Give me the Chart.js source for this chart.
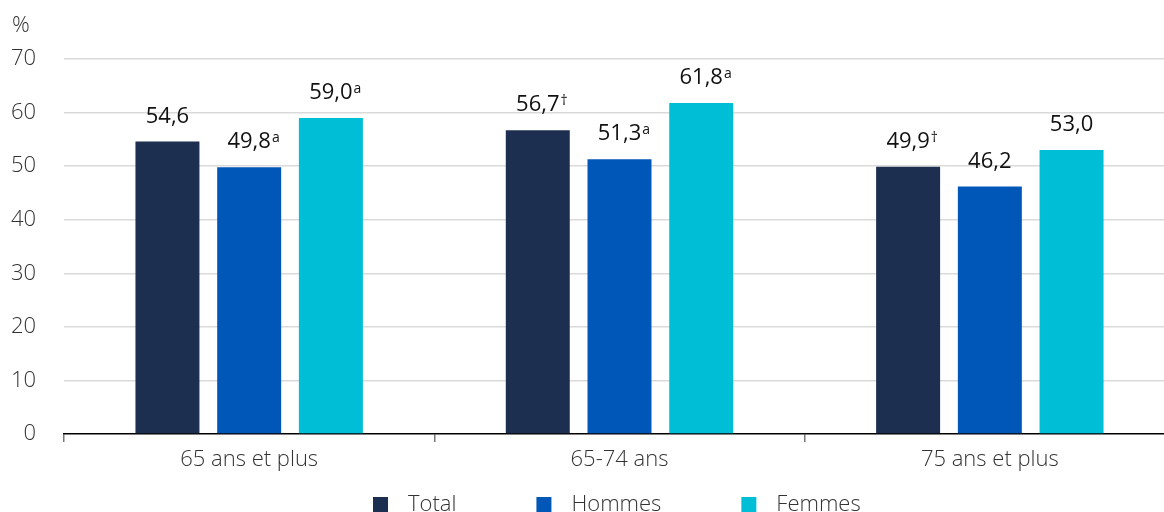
<!DOCTYPE html>
<html>
<head>
<meta charset="utf-8">
<script src="https://cdn.jsdelivr.net/npm/chart.js@4.4.1/dist/chart.umd.min.js"></script>
<style>
  html, body { margin: 0; padding: 0; background: #fff; overflow: hidden; }
  #wrap { width: 1164px; height: 512px; overflow: hidden; }
</style>
</head>
<body>
<div id="wrap"><canvas id="barChart" width="1175" height="512"></canvas></div>
<script>
const categories = ['65 ans et plus', '65-74 ans', '75 ans et plus'];
const seriesNames = ['Total', 'Hommes', 'Femmes'];
const totalValues = [54.6, 56.7, 49.9];
const hommesValues = [49.8, 51.3, 46.2];
const femmesValues = [59.0, 61.8, 53.0];
const totalNotes = ['', '†', '†'];
const hommesNotes = ['a', 'a', ''];
const femmesNotes = ['a', 'a', ''];
const yTicks = [0, 10, 20, 30, 40, 50, 60, 70];
const yUnit = '%';

const FONT = "'Open Sans', 'Noto Sans', sans-serif";
const W = '300';

// value labels with superscript notes
const valueLabels = {
    id: 'valueLabels',
    afterDatasetsDraw(chart) {
        const ctx = chart.ctx;
        ctx.save();
        ctx.fillStyle = '#111';
        ctx.textBaseline = 'alphabetic';
        chart.data.datasets.forEach((ds, i) => {
            const meta = chart.getDatasetMeta(i);
            meta.data.forEach((bar, j) => {
                const txt = ds.data[j].toFixed(1).replace('.', ',');
                const y = bar.y - 19;
                ctx.font = '22px ' + FONT;
                ctx.textAlign = 'center';
                ctx.fillText(txt, bar.x, y);
                const note = ds.notes[j];
                if (note) {
                    const w = ctx.measureText(txt).width;
                    ctx.font = '14px ' + FONT;
                    ctx.textAlign = 'left';
                    ctx.fillText(note, bar.x + w / 2 + 1, y - 6);
                }
            });
        });
        ctx.restore();
    }
};

// unit label and legend
const extras = {
    id: 'extras',
    afterDraw(chart) {
        const ctx = chart.ctx;
        ctx.save();
        ctx.font = W + ' 22px ' + FONT;
        ctx.fillStyle = '#333';
        ctx.textAlign = 'left';
        ctx.textBaseline = 'alphabetic';
        ctx.fillText(yUnit, 12, 32);

        const box = 15, gap = 20, itemGap = 80;
        let x = 373;
        const cy = 505;
        ctx.textBaseline = 'middle';
        chart.data.datasets.forEach(ds => {
            const w = ctx.measureText(ds.label).width;
            ctx.fillStyle = ds.backgroundColor;
            ctx.fillRect(x, cy - 8, box, box);
            ctx.fillStyle = '#333';
            ctx.fillText(ds.label, x + box + gap, cy);
            x += box + gap + w + itemGap;
        });
        ctx.restore();
    }
};

const ctxBar = document.getElementById('barChart').getContext('2d');
const barChart = new Chart(ctxBar, {
    type: 'bar',
    data: {
        labels: categories,
        datasets: [
            { label: seriesNames[0], data: totalValues, notes: totalNotes, backgroundColor: '#1d2f50' },
            { label: seriesNames[1], data: hommesValues, notes: hommesNotes, backgroundColor: '#0057b8' },
            { label: seriesNames[2], data: femmesValues, notes: femmesNotes, backgroundColor: '#00bed6' }
        ]
    },
    options: {
        responsive: false,
        animation: false,
        categoryPercentage: 0.662,
        barPercentage: 0.783,
        layout: { padding: { top: 59, right: 0, bottom: 0, left: 0 } },
        plugins: {
            legend: { display: false },
            tooltip: { enabled: false }
        },
        scales: {
            x: {
                grid: {
                    offset: true,
                    drawOnChartArea: false,
                    tickLength: 8,
                    color: '#777',
                    lineWidth: 1.5
                },
                border: { color: '#000', width: 1.5 },
                ticks: {
                    font: { family: FONT, size: 22, weight: W },
                    color: '#333',
                    padding: 5
                },
                afterFit(scale) { scale.height = 78; }
            },
            y: {
                min: 0,
                max: 70,
                afterBuildTicks(scale) { scale.ticks = yTicks.map(v => ({ value: v })); },
                grid: {
                    drawTicks: false,
                    color: c => c.tick.value === 0 ? 'rgba(0,0,0,0)' : '#dadada',
                    lineWidth: 1.5
                },
                border: { display: false },
                ticks: {
                    font: { family: FONT, size: 22, weight: W },
                    color: '#333',
                    padding: 28
                },
                afterFit(scale) { scale.width = 64; }
            }
        }
    },
    plugins: [valueLabels, extras]
});
</script>
</body>
</html>
